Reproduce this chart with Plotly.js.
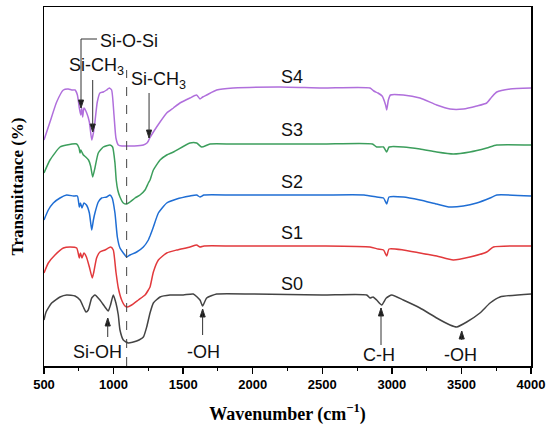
<!DOCTYPE html>
<html>
<head>
<meta charset="utf-8">
<script src="https://cdn.plot.ly/plotly-3.0.1.min.js"></script>
<style>html,body{margin:0;padding:0;background:#fff;}#chart{width:550px;height:429px;}</style>
</head>
<body>
<div id="chart"></div>
<script>
// Wavenumber (cm-1) and offset transmittance (arbitrary units)
const s4Wn = [500,543,591,639,675,699,723,740,754,764,771,778,787,807,826,843,855,866,883,902,926,950,969,986,1003,1017,1034,1060,1100,1150,1214,1240,1250,1260,1286,1334,1382,1430,1477,1549,1597,1621,1640,1669,1741,1860,2196,2500,2843,2870,2900,2930,2955,2963,2975,2990,3082,3202,3322,3418,3513,3610,3682,3718,3754,3849,4000];
const s4T  = [226,244,264,276,277,276,276,271,258,251,258,249,258,253,244,226,233,244,264,273,274,276,278,276,251,228,221,220,220,220,221,223,225,228,234,244,253,258,263,268,271,267,269,271,276,278,279,278,278,275,273,270,261,256,266,271,271,268,261,257,257,260,263,269,274,277,278];

const s3Wn = [500,543,615,663,735,752,759,765,772,783,800,820,835,850,866,890,926,974,993,1010,1019,1030,1046,1070,1094,1118,1154,1190,1226,1250,1262,1286,1334,1382,1430,1549,1597,1633,1693,1860,2500,2860,2891,2940,2963,2980,3082,3202,3322,3441,3561,3682,3754,4000];
const s3T  = [193,206,219,221,222,218,213,216,214,211,209,206,200,189,198,213,219,221,219,203,186,176,169,163,162,164,168,171,176,183,186,196,206,211,214,223,223,219,222,222,222,222,219,219,214,219,219,217,214,212,214,218,221,221];

const s2Wn = [500,531,567,615,663,711,740,754,762,773,787,805,826,843,855,866,890,914,950,974,990,1010,1027,1046,1070,1094,1118,1166,1214,1250,1262,1286,1322,1382,1454,1549,1597,1621,1650,1860,2500,2800,2891,2940,2963,2980,3082,3202,3322,3418,3513,3610,3706,3754,4000];
const s2T  = [146,156,163,168,171,170,170,159,163,158,163,161,153,136,146,153,164,168,169,171,168,153,129,118,113,109,111,114,119,126,130,139,153,163,167,170,171,169,171,171,171,171,169,168,162,169,169,166,162,159,160,163,168,171,170];

const s1Wn = [500,531,579,639,687,735,754,762,773,787,805,826,847,858,878,902,938,979,998,1017,1034,1058,1082,1099,1130,1178,1226,1250,1262,1286,1322,1382,1454,1549,1597,1621,1650,1860,2500,2843,2900,2940,2963,2980,3082,3202,3322,3441,3561,3682,3730,4000];
const s1T  = [93,103,111,118,119,118,108,113,108,113,109,99,88,94,108,114,116,119,116,94,78,66,60,59,61,66,71,76,79,94,106,113,116,119,121,119,120,120,120,119,117,116,110,117,116,113,110,106,109,114,119,120];

const s0Wn = [500,515,555,615,663,723,759,783,802,818,843,866,902,938,962,978,998,1017,1034,1046,1070,1106,1166,1214,1238,1262,1286,1334,1406,1501,1573,1621,1640,1669,1741,2000,2500,2819,2843,2865,2891,2927,2960,2999,3082,3202,3322,3418,3466,3538,3633,3706,3777,4000];
const s0T  = [46,54,63,69,71,70,66,59,54,56,68,71,66,59,55,61,71,63,51,36,26,23,25,29,39,53,63,69,71,71,72,66,60,68,72,72,71,71,68,69,66,61,68,71,66,58,48,41,39,44,53,63,69,72];

const seriesNames = ['S4','S3','S2','S1','S0'];
const seriesColors = ['#b06fdc','#3c9e5c','#1f6ed4','#e2393c','#444444'];
const xTicks = [500,1000,1500,2000,2500,3000,3500,4000];

const wnList = [s4Wn,s3Wn,s2Wn,s1Wn,s0Wn];
const tList = [s4T,s3T,s2T,s1T,s0T];

const traces = seriesNames.map((n,i)=>({
  x: wnList[i], y: tList[i], name: n, type: 'scatter', mode: 'lines',
  line: {color: seriesColors[i], width: 1.5, shape: 'spline', smoothing: 0.5},
  hoverinfo: 'skip'
}));

const sans = 'Liberation Sans, Arial, sans-serif';
const serif = 'Liberation Serif, Times New Roman, serif';
const labelY = [289,236,184,133,82];
const annotations = seriesNames.map((n,i)=>({
  x: 2282, y: labelY[i], text: n, showarrow: false,
  font: {family: sans, size: 18, color: '#111'}, xanchor: 'center', yanchor: 'middle'
}));

function label(x, y, t, anchor){
  return {x: x, y: y, text: t, showarrow: false, xanchor: anchor || 'center', yanchor: 'middle',
    font: {family: sans, size: 18, color: '#111'}};
}
annotations.push(
  label(886, 325, 'Si-O-Si', 'left'),
  label(874, 300, 'Si-CH<sub>3</sub>'),
  label(1326, 286, 'Si-CH<sub>3</sub>'),
  label(888, 14, 'Si-OH'),
  label(1643, 14, '-OH'),
  label(2908, 11, 'C-H'),
  label(3490, 11, '-OH')
);

// arrow drawn as a pixel-sized path anchored at its tip; len > 0: tail above tip
function arrowShape(x, y, len){
  const s = len > 0 ? 1 : -1;
  const h = 8 * s;
  return {type: 'path', xref: 'x', yref: 'y', xsizemode: 'pixel', ysizemode: 'pixel',
    xanchor: x, yanchor: y,
    path: 'M0,' + len + ' L0,0 M-2.6,' + h + ' L0,0 L2.6,' + h + ' Z',
    line: {color: '#333', width: 1}, fillcolor: '#111'};
}

const shapes = [
  {type: 'line', x0: 1094, x1: 1094, y0: 0, y1: 296, line: {color: '#444', width: 1, dash: 'dash'}},
  {type: 'line', x0: 766, x1: 881, y0: 327, y1: 327, line: {color: '#333', width: 1}},
  arrowShape(766, 258, 69),
  arrowShape(850, 234, 52),
  arrowShape(1255, 228, 45),
  arrowShape(958, 48, -19),
  arrowShape(1640, 57, -26),
  arrowShape(2922, 58, -37),
  arrowShape(3502, 35, -9)
];

const layout = {
  width: 550, height: 429,
  margin: {l: 44, r: 19, t: 7, b: 63},
  paper_bgcolor: '#fff', plot_bgcolor: '#fff',
  showlegend: false,
  xaxis: {
    range: [500, 4000], tickvals: xTicks, ticktext: xTicks.map(String),
    ticks: 'outside', ticklen: 6, tickwidth: 1.3, tickcolor: '#000',
    minor: {dtick: 250, tick0: 500, ticks: 'outside', ticklen: 3, tickwidth: 1, tickcolor: '#000'},
    showline: true, linecolor: '#000', linewidth: 1.5, mirror: true,
    showgrid: false, zeroline: false,
    tickfont: {family: sans, size: 13, color: '#000', weight: 'bold'},
    title: {text: '<b>Wavenumber (cm<sup>\u22121</sup>)</b>', font: {family: serif, size: 18, color: '#000'}, standoff: 16}
  },
  yaxis: {
    range: [0, 359], showticklabels: false, ticks: '',
    showline: true, linecolor: '#000', linewidth: 1.5, mirror: true,
    showgrid: false, zeroline: false,
    title: {text: '<b>Transmittance (%)</b>', font: {family: serif, size: 17, color: '#000'}, standoff: 14}
  },
  shapes: shapes,
  annotations: annotations
};

Plotly.newPlot('chart', traces, layout, {displayModeBar: false, staticPlot: true});
</script>
</body>
</html>
